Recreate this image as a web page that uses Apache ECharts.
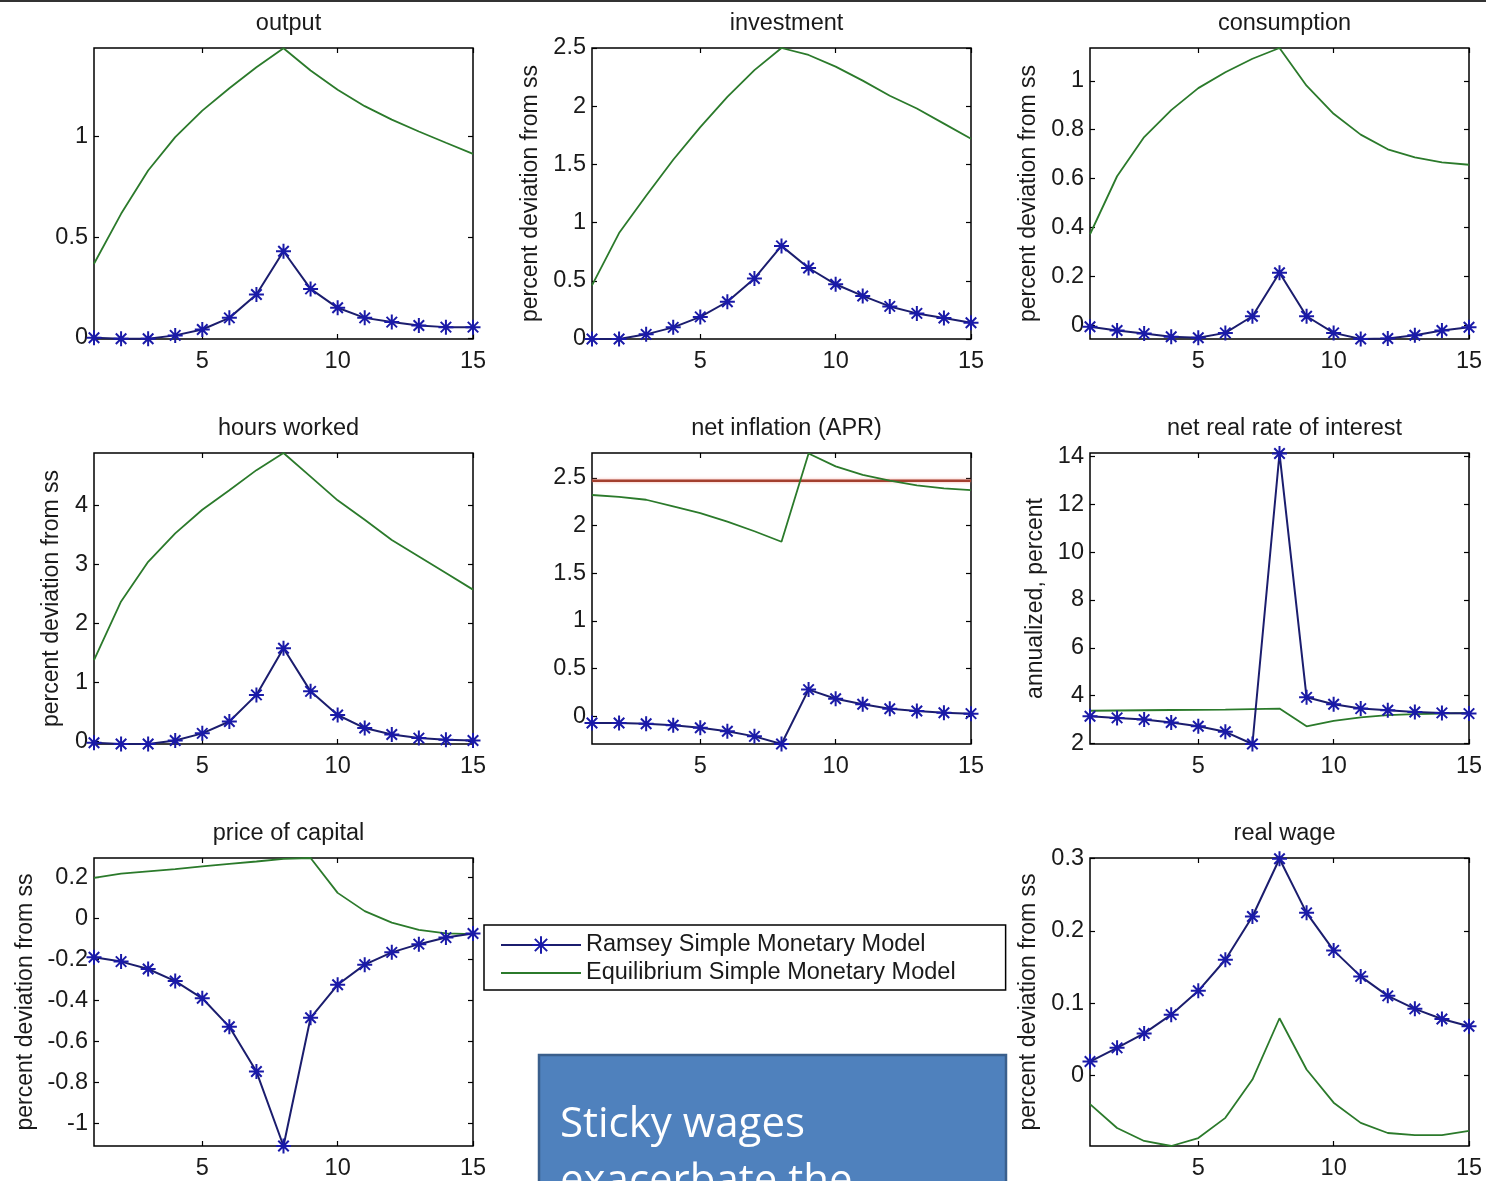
<!DOCTYPE html>
<html><head><meta charset="utf-8">
<script src="https://cdn.jsdelivr.net/npm/echarts@6/dist/echarts.min.js"></script>
<style>html,body{margin:0;padding:0;background:#fff;overflow:hidden}#c{width:1486px;height:1181px}</style>
</head><body><div id="c"></div>
<script>
// ---------- data ----------
const periods = [1, 2, 3, 4, 5, 6, 7, 8, 9, 10, 11, 12, 13, 14, 15];
const xTicks = [5, 10, 15];

const outputRamsey = [0, -0.005, -0.005, 0.012, 0.041, 0.099, 0.215, 0.43, 0.243, 0.149, 0.099, 0.078, 0.061, 0.053, 0.053];
const outputEquil  = [0.368, 0.616, 0.831, 0.997, 1.129, 1.24, 1.344, 1.439, 1.328, 1.233, 1.151, 1.084, 1.025, 0.969, 0.914];
const outputTicks  = [0, 0.5, 1];

const investRamsey = [0, 0, 0.04, 0.10, 0.19, 0.32, 0.52, 0.80, 0.61, 0.47, 0.37, 0.28, 0.22, 0.18, 0.14];
const investEquil  = [0.46, 0.91, 1.23, 1.54, 1.82, 2.08, 2.31, 2.5, 2.44, 2.34, 2.22, 2.09, 1.98, 1.85, 1.72];
const investTicks  = [0, 0.5, 1, 1.5, 2, 2.5];

const consRamsey = [-0.005, -0.02, -0.033, -0.046, -0.05, -0.03, 0.038, 0.216, 0.038, -0.03, -0.055, -0.053, -0.04, -0.02, -0.007];
const consEquil  = [0.373, 0.61, 0.77, 0.88, 0.97, 1.035, 1.09, 1.134, 0.98, 0.865, 0.78, 0.72, 0.687, 0.667, 0.657];
const consTicks  = [0, 0.2, 0.4, 0.6, 0.8, 1];

const hoursRamsey = [-0.02, -0.04, -0.04, 0.02, 0.14, 0.34, 0.79, 1.58, 0.85, 0.45, 0.23, 0.12, 0.06, 0.03, 0.02];
const hoursEquil  = [1.38, 2.37, 3.04, 3.52, 3.92, 4.25, 4.59, 4.88, 4.48, 4.08, 3.75, 3.41, 3.13, 2.85, 2.57];
const hoursTicks  = [0, 1, 2, 3, 4];

const inflRamsey = [-0.07, -0.07, -0.077, -0.094, -0.12, -0.157, -0.21, -0.29, 0.28, 0.185, 0.126, 0.08, 0.056, 0.038, 0.028];
const inflEquil  = [2.32, 2.30, 2.27, 2.20, 2.13, 2.04, 1.94, 1.83, 2.755, 2.62, 2.53, 2.47, 2.42, 2.39, 2.37];
const inflTarget = [[1, 2.47], [15, 2.47]];
const inflTicks  = [0, 0.5, 1, 1.5, 2, 2.5];

const rateRamsey = [3.14, 3.07, 3.0, 2.88, 2.72, 2.49, 1.98, 14.12, 3.93, 3.64, 3.46, 3.39, 3.32, 3.28, 3.25];
const rateEquil  = [3.37, 3.38, 3.39, 3.40, 3.41, 3.42, 3.44, 3.46, 2.72, 2.95, 3.09, 3.19, 3.23, 3.25, 3.28];
const rateTicks  = [2, 4, 6, 8, 10, 12, 14];

const pkRamsey = [-0.19, -0.211, -0.247, -0.306, -0.39, -0.529, -0.747, -1.11, -0.485, -0.324, -0.226, -0.166, -0.126, -0.094, -0.074];
const pkEquil  = [0.197, 0.218, 0.229, 0.24, 0.253, 0.265, 0.277, 0.29, 0.294, 0.124, 0.035, -0.021, -0.056, -0.073, -0.077];
const pkTicks  = [-1, -0.8, -0.6, -0.4, -0.2, 0, 0.2];

const wageRamsey = [0.019, 0.038, 0.058, 0.084, 0.117, 0.16, 0.22, 0.30, 0.225, 0.173, 0.137, 0.11, 0.092, 0.078, 0.068];
const wageEquil  = [-0.04, -0.073, -0.091, -0.098, -0.087, -0.059, -0.006, 0.079, 0.008, -0.038, -0.066, -0.08, -0.083, -0.083, -0.077];
const wageTicks  = [0, 0.1, 0.2, 0.3];

const RAMSEY = 'Ramsey Simple Monetary Model';
const EQUIL = 'Equilibrium Simple Monetary Model';
const boxText = 'Sticky wages\nexacerbate the';

// ---------- panels ----------
const panels = [
  {title: 'output', ylabel: '', r: outputRamsey, e: outputEquil, ticks: outputTicks, min: -0.006, max: 1.44, col: 0, row: 0, gap: 0},
  {title: 'investment', ylabel: 'percent deviation from ss', r: investRamsey, e: investEquil, ticks: investTicks, min: 0, max: 2.5, col: 1, row: 0, gap: 50},
  {title: 'consumption', ylabel: 'percent deviation from ss', r: consRamsey, e: consEquil, ticks: consTicks, min: -0.055, max: 1.134, col: 2, row: 0, gap: 50},
  {title: 'hours worked', ylabel: 'percent deviation from ss', r: hoursRamsey, e: hoursEquil, ticks: hoursTicks, min: -0.04, max: 4.88, col: 0, row: 1, gap: 31},
  {title: 'net inflation (APR)', ylabel: '', r: inflRamsey, e: inflEquil, ticks: inflTicks, min: -0.29, max: 2.76, col: 1, row: 1, gap: 0, target: inflTarget},
  {title: 'net real rate of interest', ylabel: 'annualized, percent', r: rateRamsey, e: rateEquil, ticks: rateTicks, min: 1.98, max: 14.14, col: 2, row: 1, gap: 43},
  {title: 'price of capital', ylabel: 'percent deviation from ss', r: pkRamsey, e: pkEquil, ticks: pkTicks, min: -1.11, max: 0.294, col: 0, row: 2, gap: 57},
  {title: 'real wage', ylabel: 'percent deviation from ss', r: wageRamsey, e: wageEquil, ticks: wageTicks, min: -0.098, max: 0.301, col: 2, row: 2, gap: 50}
];

const colLeft = [94, 592, 1090];
const rowTop = [48, 453, 858];
const gridW = 379, gridH = 291;
const FONT = '"Liberation Sans", Arial, Helvetica, sans-serif';
const FS = 23.5;
const BLUE_LINE = '#1b1d6e';
const BLUE_MARK = '#1a1aa8';
const GREEN = '#2b7a2b';
const STAR = 'path://M0,-10L0,10M-10,0L10,0M-7,-7L7,7M-7,7L7,-7';
const LINE_ICON = 'path://M0,0L80,0L80,1.8L0,1.8Z';

const grids = [], xAxes = [], yAxes = [], titles = [], series = [];
panels.forEach((p, i) => {
  const left = colLeft[p.col], top = rowTop[p.row];
  grids.push({left: left, top: top, width: gridW, height: gridH, show: true, borderColor: '#000', borderWidth: 1.5, backgroundColor: '#fff'});
  titles.push({text: p.title, left: left + gridW / 2, top: top - 41, textAlign: 'center',
    textStyle: {fontFamily: FONT, fontSize: FS, fontWeight: 'normal', color: '#1a1a1a'}});
  const tickStyle = {show: true, inside: true, length: 5, lineStyle: {color: '#000', width: 1.2}};
  const noLine = {show: false, onZero: false};
  xAxes.push({type: 'value', gridIndex: i, min: 1, max: 15, position: 'bottom',
    axisLine: noLine, splitLine: {show: false},
    axisTick: Object.assign({customValues: xTicks}, tickStyle),
    axisLabel: {customValues: xTicks, margin: 11, fontFamily: FONT, fontSize: FS, color: '#1a1a1a'}});
  xAxes.push({type: 'value', gridIndex: i, min: 1, max: 15, position: 'top',
    axisLine: noLine, splitLine: {show: false},
    axisTick: Object.assign({customValues: xTicks}, tickStyle), axisLabel: {show: false}});
  yAxes.push({type: 'value', gridIndex: i, min: p.min, max: p.max, position: 'left',
    name: p.ylabel, nameLocation: 'middle', nameGap: p.gap,
    nameTextStyle: {fontFamily: FONT, fontSize: 23, color: '#1a1a1a'},
    axisLine: noLine, splitLine: {show: false},
    axisTick: Object.assign({customValues: p.ticks}, tickStyle),
    axisLabel: {customValues: p.ticks, margin: 6, fontFamily: FONT, fontSize: FS, color: '#1a1a1a'}});
  yAxes.push({type: 'value', gridIndex: i, min: p.min, max: p.max, position: 'right',
    axisLine: noLine, splitLine: {show: false},
    axisTick: Object.assign({customValues: p.ticks}, tickStyle), axisLabel: {show: false}});
  if (p.target) {
    series.push({name: 'target', type: 'line', xAxisIndex: 2 * i, yAxisIndex: 2 * i,
      data: p.target, symbol: 'none', clip: false, z: 1,
      lineStyle: {color: '#a3402f', width: 2.5, shadowColor: 'rgba(240,140,130,0.7)', shadowBlur: 3}});
  }
  series.push({name: EQUIL, type: 'line', xAxisIndex: 2 * i, yAxisIndex: 2 * i,
    data: periods.map((x, k) => [x, p.e[k]]), symbol: 'none', clip: false, z: 2,
    lineStyle: {color: GREEN, width: 1.8}, itemStyle: {color: GREEN}});
  series.push({name: RAMSEY, type: 'line', xAxisIndex: 2 * i, yAxisIndex: 2 * i,
    data: periods.map((x, k) => [x, p.r[k]]), symbol: STAR, symbolSize: 15, showSymbol: true, clip: false, z: 3,
    lineStyle: {color: BLUE_LINE, width: 2},
    itemStyle: {color: 'rgba(0,0,0,0)', borderColor: BLUE_MARK, borderWidth: 2}});
});

const chart = echarts.init(document.getElementById('c'), null, {renderer: 'canvas'});
chart.setOption({
  animation: false,
  backgroundColor: '#fff',
  title: titles,
  grid: grids,
  xAxis: xAxes,
  yAxis: yAxes,
  legend: {
    data: [{name: RAMSEY}, {name: EQUIL, icon: LINE_ICON, itemStyle: {color: GREEN}}],
    orient: 'vertical', left: 484, top: 925,
    padding: [8, 50, 5, 16], itemWidth: 80, itemHeight: 22, itemGap: 4,
    borderColor: '#000', borderWidth: 1.5, borderRadius: 0, backgroundColor: '#fff',
    selectedMode: false,
    textStyle: {fontFamily: FONT, fontSize: FS, color: '#1a1a1a', lineHeight: 22}
  },
  graphic: [
    {type: 'line', shape: {x1: 0, y1: 1, x2: 1486, y2: 1}, style: {stroke: '#333', lineWidth: 2}},
    {type: 'rect', shape: {x: 539, y: 1055, width: 467, height: 160},
      style: {fill: '#4f81bd', stroke: '#3a5f8c', lineWidth: 2.5}, z: 10},
    {type: 'text', x: 560, y: 1097, z: 11,
      style: {text: boxText, fill: '#fff', fontFamily: '"Open Sans", sans-serif', fontSize: 42, lineHeight: 57}}
  ],
  series: series
});
</script>
</body></html>
